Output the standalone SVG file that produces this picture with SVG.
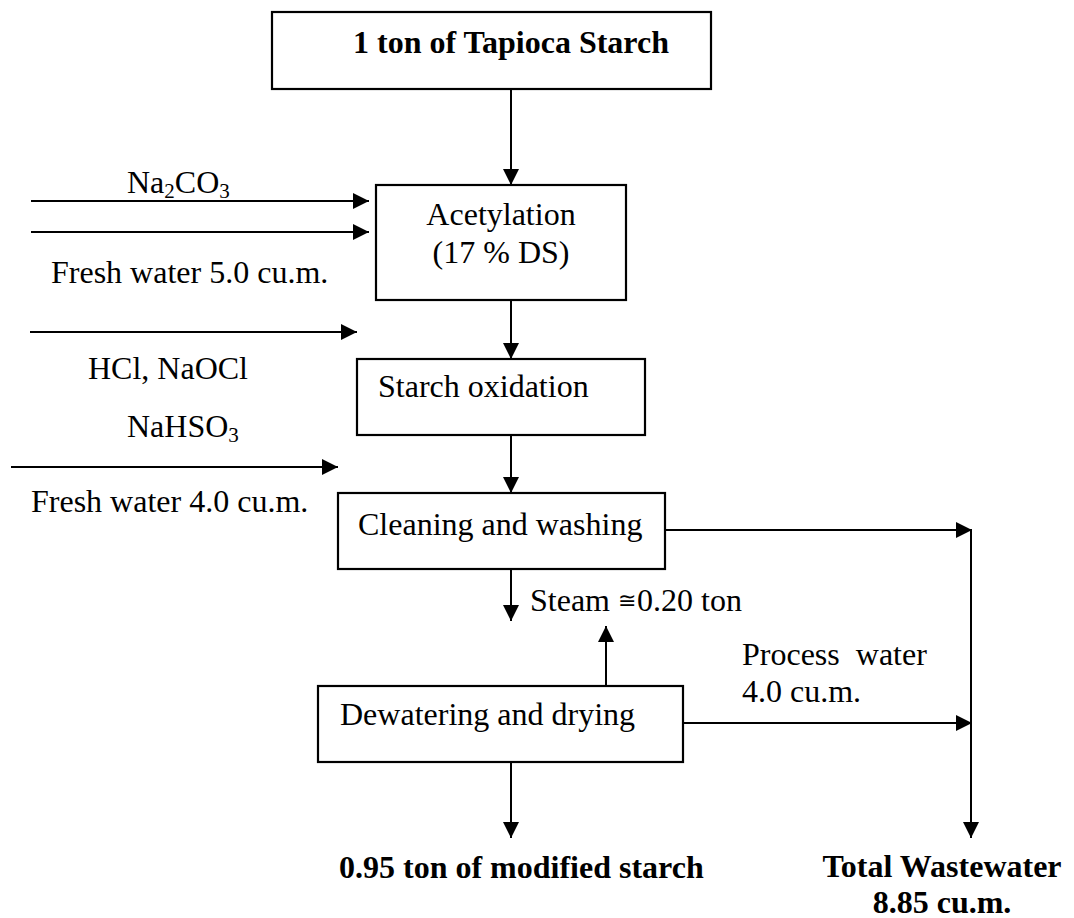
<svg xmlns="http://www.w3.org/2000/svg" width="1074" height="918" viewBox="0 0 1074 918">
<style>
text{font-family:"Liberation Serif","Times New Roman",serif;font-size:32px;fill:#000;white-space:pre}
.b{font-weight:bold}
.box{fill:#fff;stroke:#000;stroke-width:2.2}
.c line{stroke:#000;stroke-width:2}
.sub{font-size:21px}
</style>
<defs>
<marker id="ah" markerWidth="16" markerHeight="16" refX="16" refY="8" orient="auto" markerUnits="userSpaceOnUse">
<path d="M0,0 L16,8 L0,16 Z" fill="#000"/>
</marker>
</defs>
<rect width="1074" height="918" fill="#fff"/>
<g id="connectors" class="c">
<line x1="511" y1="89" x2="511" y2="185" marker-end="url(#ah)"/>
<line x1="31" y1="201" x2="369" y2="201" marker-end="url(#ah)"/>
<line x1="31" y1="232" x2="369" y2="232" marker-end="url(#ah)"/>
<line x1="511" y1="300" x2="511" y2="359" marker-end="url(#ah)"/>
<line x1="30" y1="332" x2="357" y2="332" marker-end="url(#ah)"/>
<line x1="11" y1="467" x2="338" y2="467" marker-end="url(#ah)"/>
<line x1="511" y1="435" x2="511" y2="493" marker-end="url(#ah)"/>
<line x1="665" y1="530" x2="972" y2="530" marker-end="url(#ah)"/>
<line x1="511" y1="569" x2="511" y2="621" marker-end="url(#ah)"/>
<line x1="606" y1="686" x2="606" y2="626" marker-end="url(#ah)"/>
<line x1="683" y1="723" x2="972" y2="723" marker-end="url(#ah)"/>
<line x1="971" y1="530" x2="971" y2="838" marker-end="url(#ah)"/>
<line x1="511" y1="762" x2="511" y2="838" marker-end="url(#ah)"/>
</g>
<g id="labels">
<text x="127" y="193">Na<tspan class="sub" dy="5">2</tspan><tspan dy="-5">CO</tspan><tspan class="sub" dy="5">3</tspan></text>
<text x="51" y="283">Fresh water 5.0 cu.m.</text>
<text x="88" y="379">HCl, NaOCl</text>
<text x="127" y="437">NaHSO<tspan class="sub" dy="5">3</tspan></text>
<text x="31" y="512">Fresh water 4.0 cu.m.</text>
<text x="530" y="611">Steam <tspan font-size="22" dy="-3">≅</tspan><tspan x="637" dy="3">0.20 ton</tspan></text>
<text x="742" y="665">Process  water</text>
<text x="742" y="702">4.0 cu.m.</text>
</g>
<g id="n-start">
<rect class="box" x="272" y="12" width="439" height="77"/>
<text class="b" x="511" y="53" text-anchor="middle">1 ton of Tapioca Starch</text>
</g>
<g id="n-acetylation">
<rect class="box" x="376" y="185" width="250" height="115"/>
<text x="501" y="225" text-anchor="middle">Acetylation</text>
<text x="501" y="263" text-anchor="middle">(17 % DS)</text>
</g>
<g id="n-oxidation">
<rect class="box" x="357" y="359" width="288" height="76"/>
<text x="378" y="397">Starch oxidation</text>
</g>
<g id="n-cleaning">
<rect class="box" x="338" y="493" width="327" height="76"/>
<text x="358" y="535">Cleaning and washing</text>
</g>
<g id="n-dewatering">
<rect class="box" x="318" y="686" width="365" height="76"/>
<text x="340" y="725">Dewatering and drying</text>
</g>
<g id="n-product">
<text class="b" x="339" y="878">0.95 ton of modified starch</text>
</g>
<g id="n-wastewater">
<text class="b" x="942" y="877" text-anchor="middle">Total Wastewater</text>
<text class="b" x="942" y="913" text-anchor="middle">8.85 cu.m.</text>
</g>
</svg>
